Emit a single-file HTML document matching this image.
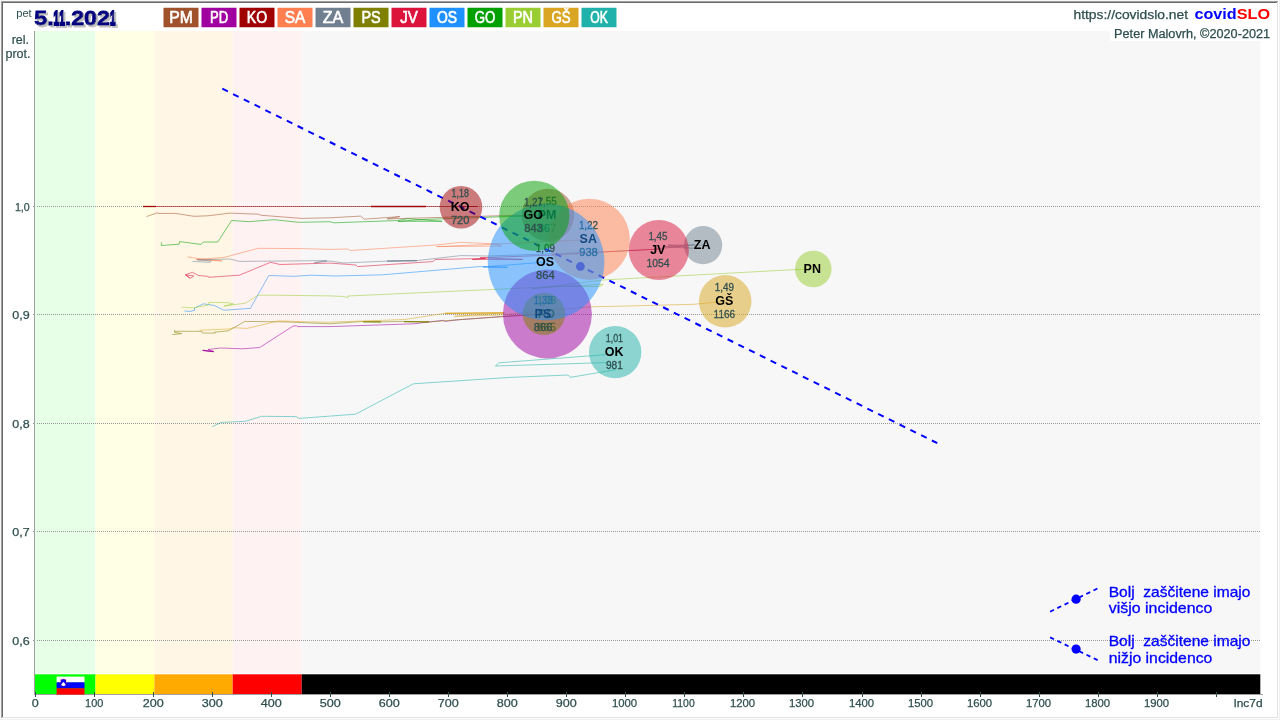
<!DOCTYPE html>
<html lang="sl"><head><meta charset="utf-8"><title>covidSLO</title>
<style>html,body{margin:0;padding:0;background:#fff;overflow:hidden}svg{display:block}text{font-family:"Liberation Sans", sans-serif;}</style>
</head><body>
<svg width="1280" height="720" viewBox="0 0 1280 720">
<rect width="1280" height="720" fill="#fff"/>
<g shape-rendering="crispEdges">
<rect x="0" y="0" width="1280" height="1" fill="#f8f8f8"/><rect x="0" y="0" width="1" height="720" fill="#f8f8f8"/>
<rect x="1" y="1" width="1277" height="1" fill="#a0a0a0"/><rect x="1" y="1" width="1" height="717" fill="#a0a0a0"/>
<rect x="2" y="2" width="1275" height="1" fill="#696969"/><rect x="2" y="2" width="1" height="715" fill="#696969"/>
<rect x="1277" y="2" width="1" height="716" fill="#e3e3e3"/><rect x="2" y="717" width="1276" height="1" fill="#e3e3e3"/>
<rect x="1279" y="0" width="1" height="720" fill="#f0f0f0"/><rect x="0" y="719" width="1280" height="1" fill="#f0f0f0"/>
</g>
<rect x="35" y="31" width="60.5" height="642.2" fill="#e6ffe6"/>
<rect x="35" y="674.3" width="60.5" height="19.7" fill="#00ff00"/>
<rect x="95.5" y="31" width="58.9" height="642.2" fill="#ffffe6"/>
<rect x="95.5" y="674.3" width="58.9" height="19.7" fill="#ffff00"/>
<rect x="154.4" y="31" width="78.3" height="642.2" fill="#fff6e6"/>
<rect x="154.4" y="674.3" width="78.3" height="19.7" fill="#ffaa00"/>
<rect x="232.7" y="31" width="69.0" height="642.2" fill="#fff2f2"/>
<rect x="232.7" y="674.3" width="69.0" height="19.7" fill="#ff0000"/>
<rect x="301.7" y="31" width="958.6" height="642.2" fill="#f7f7f7"/>
<rect x="301.7" y="674.3" width="958.6" height="19.7" fill="#000000"/>
<g shape-rendering="crispEdges">
<line x1="37" y1="206.5" x2="1260" y2="206.5" stroke="#999" stroke-width="1" stroke-dasharray="1 1"/>
<rect x="33" y="206" width="2" height="1" fill="#999"/>
<line x1="37" y1="314.5" x2="1260" y2="314.5" stroke="#999" stroke-width="1" stroke-dasharray="1 1"/>
<rect x="33" y="314" width="2" height="1" fill="#999"/>
<line x1="37" y1="423.5" x2="1260" y2="423.5" stroke="#999" stroke-width="1" stroke-dasharray="1 1"/>
<rect x="33" y="423" width="2" height="1" fill="#999"/>
<line x1="37" y1="531.5" x2="1260" y2="531.5" stroke="#999" stroke-width="1" stroke-dasharray="1 1"/>
<rect x="33" y="531" width="2" height="1" fill="#999"/>
<line x1="37" y1="640.5" x2="1260" y2="640.5" stroke="#999" stroke-width="1" stroke-dasharray="1 1"/>
<rect x="33" y="640" width="2" height="1" fill="#999"/>
<rect x="34" y="31" width="1" height="664" fill="#a0a0a0"/>
<rect x="34" y="694" width="1229" height="1" fill="#a0a0a0"/>
<rect x="35" y="692" width="1" height="5" fill="#2F4F4F"/>
<rect x="94" y="692" width="1" height="5" fill="#2F4F4F"/>
<rect x="153" y="692" width="1" height="5" fill="#2F4F4F"/>
<rect x="212" y="692" width="1" height="5" fill="#2F4F4F"/>
<rect x="271" y="692" width="1" height="5" fill="#2F4F4F"/>
<rect x="330" y="692" width="1" height="5" fill="#2F4F4F"/>
<rect x="389" y="692" width="1" height="5" fill="#2F4F4F"/>
<rect x="448" y="692" width="1" height="5" fill="#2F4F4F"/>
<rect x="507" y="692" width="1" height="5" fill="#2F4F4F"/>
<rect x="566" y="692" width="1" height="5" fill="#2F4F4F"/>
<rect x="625" y="692" width="1" height="5" fill="#2F4F4F"/>
<rect x="684" y="692" width="1" height="5" fill="#2F4F4F"/>
<rect x="743" y="692" width="1" height="5" fill="#2F4F4F"/>
<rect x="802" y="692" width="1" height="5" fill="#2F4F4F"/>
<rect x="862" y="692" width="1" height="5" fill="#2F4F4F"/>
<rect x="921" y="692" width="1" height="5" fill="#2F4F4F"/>
<rect x="980" y="692" width="1" height="5" fill="#2F4F4F"/>
<rect x="1039" y="692" width="1" height="5" fill="#2F4F4F"/>
<rect x="1098" y="692" width="1" height="5" fill="#2F4F4F"/>
<rect x="1157" y="692" width="1" height="5" fill="#2F4F4F"/>
<rect x="1216" y="692" width="1" height="5" fill="#2F4F4F"/>
</g>
<rect x="56.6" y="676.6" width="27.9" height="6" fill="#fff"/><rect x="56.6" y="682.3" width="27.9" height="6.2" fill="#0000ff"/><rect x="56.6" y="688.3" width="27.9" height="6.3" fill="#ff0000"/>
<path d="M60.8 679.7L63.4 679L66 679.7V684Q66 685.8 63.4 686.8Q60.8 685.8 60.8 684Z" fill="#0000ff" stroke="#ff0000" stroke-width="0.3"/><path d="M61.1 685L62.3 683.1L63.4 681.9L64.5 683.1L65.7 685Q63.4 686.9 61.1 685Z" fill="#fff"/>
<rect x="1110" y="24" width="167" height="17" fill="#fff"/>
<g fill="none" stroke-linejoin="round" stroke-linecap="butt">
<polyline points="146.4,216.6 157.8,212.7 158.5,213.5 175.3,213.4 194,216.3 208,215.8 230,213.1 258.1,214.2 261.3,215.3 301.9,218.4 330,217.8 360.6,216.1 364.5,219.2 399.7,216.6 387.2,218.9 498,215.8 548,215" stroke="#A0522D" stroke-width="0.6" stroke-opacity="0.9"/>
<polyline points="202.7,350.3 213.6,351.6 208.1,349.5 220.6,348 242.5,348.8 259.7,347.5 292.5,326.4 296.4,325.6 297.2,326.6 330,326.6 413.8,323.8 443.4,320.3 445,321.4 457.5,319.8 501.3,316.7 547,314" stroke="#A000A0" stroke-width="0.6" stroke-opacity="0.9"/>
<polyline points="202.7,350.3 213.6,351.6" stroke="#A000A0" stroke-width="1.3" stroke-opacity="0.9"/>
<polyline points="143,206.5 478,206.5 461,206.5" stroke="#A00000" stroke-width="0.6" stroke-opacity="0.9"/>
<polyline points="143,206.5 156,206.5" stroke="#A00000" stroke-width="1.3" stroke-opacity="0.9"/>
<polyline points="371,206.5 426,206.5" stroke="#A00000" stroke-width="1.3" stroke-opacity="0.9"/>
<polyline points="187.5,256.9 200.3,258.8 222,261 196,259.5 223.8,257.5 258.1,248.3 301.9,248.6 330,249.4 348,249 350.5,250.5 435.6,245 460.6,242.3 496.6,243.9 501.3,246 436.4,246.6 490,244.4 560,241 589,239.5" stroke="#FF7F50" stroke-width="0.6" stroke-opacity="0.9"/>
<polyline points="192.5,261.4 209.7,262.3 211.3,261.1 197.2,259.8 230,259 239.4,261.4 326.9,260.6 314.4,262.7 330,261 343.4,263 387.2,261.1 416.9,260.6 460.6,255.6 488.8,256 546,254 600,252 653,249.4 694.4,244.8 665,246.8 693.4,248.4 668,245 703,245.2" stroke="#708090" stroke-width="0.6" stroke-opacity="0.9"/>
<polyline points="387,261.1 417,260.6" stroke="#708090" stroke-width="1.3" stroke-opacity="0.9"/>
<polyline points="172.2,334.7 181.6,333.6 174.5,332.3 174.5,330.3 175.3,331.3 201.9,331.3 202.7,333.1 215.2,333.1 214.5,332.2 228.4,330.8 244.8,321.4 286.3,321.9 330,323.8 363.8,321.4 381,321.9 404.4,321.4 429.4,321.9 544,313.5" stroke="#808000" stroke-width="0.6" stroke-opacity="0.9"/>
<polyline points="363,321.8 381,321.9" stroke="#808000" stroke-width="1.3" stroke-opacity="0.9"/>
<polyline points="404,321.6 429,321.9" stroke="#808000" stroke-width="1.3" stroke-opacity="0.9"/>
<polyline points="190.2,278.3 193.8,276 185.5,274.8 190.2,278.3 185.5,274.8 192.5,272.3 198.8,275.6 208.1,276.3 208.5,277.3 239.4,275.2 270.6,262.3 280,264.5 330,263.1 356,265 357.5,266.6 432.5,261.6 435.6,259.5 485.6,258.4 472.3,259.5 522.5,259.4 480,257.8 555,255 600,252.2 661,248.9" stroke="#DC143C" stroke-width="0.6" stroke-opacity="0.9"/>
<polyline points="184.4,310.8 189.4,311.6 194.8,310.2 194.4,308.1 203.4,303.8 214.4,305.5 223.8,310.2 250.3,308.4 268.8,275.5 294,276.3 311.3,275.2 335.6,276 382.5,274.8 479.4,266.6 507.5,267.3 483,267 546,262" stroke="#1E90FF" stroke-width="0.6" stroke-opacity="0.9"/>
<polyline points="161.3,242.3 161.3,245.5 179.2,244.2 179.5,241.6 201,244.4 203.4,242 217.8,242 231.6,220.5 248.8,221.7 273.8,219.7 298.8,222.3 330,221.7 334,222.8 398,220.5 407.5,218.6 441.9,221.3 398,221.3 426,219.4 498,216.9 534,216" stroke="#00A000" stroke-width="0.6" stroke-opacity="0.9"/>
<polyline points="181.6,307.3 194,307.8 208.1,305 208.9,302.3 228.4,302.7 233.4,303.9 223.8,306.1 245.6,303.1 258.1,295.2 276.9,295.2 330,295.9 343.4,296.5 347.8,297.6 348,296 492,289.5 603,284.4 600,286.5 556,286.5 532.5,288.8 602.5,280 795,269.6 813,269" stroke="#9ACD32" stroke-width="0.6" stroke-opacity="0.9"/>
<polyline points="199.5,330.3 230,328.9 233,327.7 247.2,328.4 278.4,320.9 309.7,321.9 330,322.2 404.4,319.5 445,313.3 504.4,312.8 454.4,316.3 496.6,315.2 590,306.9 693.8,304.3 725,301.3" stroke="#DAA520" stroke-width="0.6" stroke-opacity="0.9"/>
<polyline points="445,313.3 504,312.8" stroke="#DAA520" stroke-width="1.3" stroke-opacity="0.9"/>
<polyline points="212.2,426.7 221.1,422.5 245.3,421.3 261.7,416.3 296.1,416.6 299.2,418.4 355.5,414.2 400,390.8 413.4,383.8 510,377.4 568.1,375 570.4,377.4 615.7,369.6 606.4,362.6 495.4,366 498.8,362.8 606.4,354.6" stroke="#20B2AA" stroke-width="0.6" stroke-opacity="0.9"/>
</g>
<line x1="222.3" y1="88.7" x2="937.3" y2="443.2" stroke="#0000ff" stroke-width="2" stroke-dasharray="6.2 5.8"/>
<circle cx="580.4" cy="266.5" r="4.4" fill="#0000ff"/>
<circle cx="548" cy="215" r="26.2" fill="#A0522D" fill-opacity="0.5"/>
<text x="547.2" y="204.7" font-size="11" fill="#2F4F4F" text-anchor="middle" font-weight="normal" textLength="19.2" lengthAdjust="spacingAndGlyphs" stroke="#2F4F4F" stroke-width="0.3">1,55</text>
<text x="547" y="218.6" font-size="12.5" fill="#000" text-anchor="middle" font-weight="bold">PM</text>
<text x="547.2" y="231.6" font-size="11" fill="#2F4F4F" text-anchor="middle" font-weight="normal" textLength="18.6" lengthAdjust="spacingAndGlyphs" stroke="#2F4F4F" stroke-width="0.3">867</text>
<circle cx="547.4" cy="314" r="44.5" fill="#A000A0" fill-opacity="0.5"/>
<text x="546.6" y="303.7" font-size="11" fill="#2F4F4F" text-anchor="middle" font-weight="normal" textLength="19.2" lengthAdjust="spacingAndGlyphs" stroke="#2F4F4F" stroke-width="0.3">1,38</text>
<text x="546.4" y="317.6" font-size="12.5" fill="#000" text-anchor="middle" font-weight="bold">PD</text>
<text x="546.6" y="330.6" font-size="11" fill="#2F4F4F" text-anchor="middle" font-weight="normal" textLength="18.6" lengthAdjust="spacingAndGlyphs" stroke="#2F4F4F" stroke-width="0.3">865</text>
<circle cx="461" cy="207.2" r="21.3" fill="#A00000" fill-opacity="0.5"/>
<text x="460.2" y="196.89999999999998" font-size="11" fill="#2F4F4F" text-anchor="middle" font-weight="normal" textLength="17.3" lengthAdjust="spacingAndGlyphs" stroke="#2F4F4F" stroke-width="0.3">1,18</text>
<text x="460" y="210.79999999999998" font-size="12.5" fill="#000" text-anchor="middle" font-weight="bold">KO</text>
<text x="460.2" y="223.79999999999998" font-size="11" fill="#2F4F4F" text-anchor="middle" font-weight="normal" textLength="18.6" lengthAdjust="spacingAndGlyphs" stroke="#2F4F4F" stroke-width="0.3">720</text>
<circle cx="589.3" cy="239.3" r="40.6" fill="#FF7F50" fill-opacity="0.5"/>
<text x="588.5" y="229.0" font-size="11" fill="#2F4F4F" text-anchor="middle" font-weight="normal" textLength="19.2" lengthAdjust="spacingAndGlyphs" stroke="#2F4F4F" stroke-width="0.3">1,22</text>
<text x="588.3" y="242.9" font-size="12.5" fill="#000" text-anchor="middle" font-weight="bold">SA</text>
<text x="588.5" y="255.9" font-size="11" fill="#2F4F4F" text-anchor="middle" font-weight="normal" textLength="18.6" lengthAdjust="spacingAndGlyphs" stroke="#2F4F4F" stroke-width="0.3">938</text>
<circle cx="703.1" cy="245.2" r="19.1" fill="#708090" fill-opacity="0.5"/>
<text x="702.1" y="248.79999999999998" font-size="12.5" fill="#000" text-anchor="middle" font-weight="bold">ZA</text>
<circle cx="543.9" cy="313.9" r="21.2" fill="#808000" fill-opacity="0.5"/>
<text x="543.1" y="303.59999999999997" font-size="11" fill="#2F4F4F" text-anchor="middle" font-weight="normal" textLength="19.2" lengthAdjust="spacingAndGlyphs" stroke="#2F4F4F" stroke-width="0.3">1,33</text>
<text x="542.9" y="317.5" font-size="12.5" fill="#000" text-anchor="middle" font-weight="bold">PS</text>
<text x="543.1" y="330.5" font-size="11" fill="#2F4F4F" text-anchor="middle" font-weight="normal" textLength="18.6" lengthAdjust="spacingAndGlyphs" stroke="#2F4F4F" stroke-width="0.3">866</text>
<circle cx="658.8" cy="250" r="30" fill="#DC143C" fill-opacity="0.5"/>
<text x="658.0" y="239.7" font-size="11" fill="#2F4F4F" text-anchor="middle" font-weight="normal" textLength="19.2" lengthAdjust="spacingAndGlyphs" stroke="#2F4F4F" stroke-width="0.3">1,45</text>
<text x="657.8" y="253.6" font-size="12.5" fill="#000" text-anchor="middle" font-weight="bold">JV</text>
<text x="658.0" y="266.6" font-size="11" fill="#2F4F4F" text-anchor="middle" font-weight="normal" textLength="23.2" lengthAdjust="spacingAndGlyphs" stroke="#2F4F4F" stroke-width="0.3">1054</text>
<circle cx="546.1" cy="262" r="58.3" fill="#1E90FF" fill-opacity="0.5"/>
<text x="545.3000000000001" y="251.7" font-size="11" fill="#2F4F4F" text-anchor="middle" font-weight="normal" textLength="19.2" lengthAdjust="spacingAndGlyphs" stroke="#2F4F4F" stroke-width="0.3">1,09</text>
<text x="545.1" y="265.6" font-size="12.5" fill="#000" text-anchor="middle" font-weight="bold">OS</text>
<text x="545.3000000000001" y="278.6" font-size="11" fill="#2F4F4F" text-anchor="middle" font-weight="normal" textLength="18.6" lengthAdjust="spacingAndGlyphs" stroke="#2F4F4F" stroke-width="0.3">864</text>
<circle cx="534.3" cy="215.8" r="35.1" fill="#00A000" fill-opacity="0.5"/>
<text x="533.5" y="205.5" font-size="11" fill="#2F4F4F" text-anchor="middle" font-weight="normal" textLength="19.2" lengthAdjust="spacingAndGlyphs" stroke="#2F4F4F" stroke-width="0.3">1,27</text>
<text x="533.3" y="219.4" font-size="12.5" fill="#000" text-anchor="middle" font-weight="bold">GO</text>
<text x="533.5" y="232.4" font-size="11" fill="#2F4F4F" text-anchor="middle" font-weight="normal" textLength="18.6" lengthAdjust="spacingAndGlyphs" stroke="#2F4F4F" stroke-width="0.3">843</text>
<circle cx="813.3" cy="269" r="18.3" fill="#9ACD32" fill-opacity="0.5"/>
<text x="812.3" y="272.6" font-size="12.5" fill="#000" text-anchor="middle" font-weight="bold">PN</text>
<circle cx="725.2" cy="301.3" r="26.3" fill="#DAA520" fill-opacity="0.5"/>
<text x="724.4000000000001" y="291.0" font-size="11" fill="#2F4F4F" text-anchor="middle" font-weight="normal" textLength="19.2" lengthAdjust="spacingAndGlyphs" stroke="#2F4F4F" stroke-width="0.3">1,49</text>
<text x="724.2" y="304.90000000000003" font-size="12.5" fill="#000" text-anchor="middle" font-weight="bold">GŠ</text>
<text x="724.4000000000001" y="317.90000000000003" font-size="11" fill="#2F4F4F" text-anchor="middle" font-weight="normal" textLength="21.6" lengthAdjust="spacingAndGlyphs" stroke="#2F4F4F" stroke-width="0.3">1166</text>
<circle cx="615.2" cy="352.1" r="26.2" fill="#20B2AA" fill-opacity="0.5"/>
<text x="614.4000000000001" y="341.8" font-size="11" fill="#2F4F4F" text-anchor="middle" font-weight="normal" textLength="17.3" lengthAdjust="spacingAndGlyphs" stroke="#2F4F4F" stroke-width="0.3">1,01</text>
<text x="614.2" y="355.70000000000005" font-size="12.5" fill="#000" text-anchor="middle" font-weight="bold">OK</text>
<text x="614.4000000000001" y="368.70000000000005" font-size="11" fill="#2F4F4F" text-anchor="middle" font-weight="normal" textLength="17.0" lengthAdjust="spacingAndGlyphs" stroke="#2F4F4F" stroke-width="0.3">981</text>
<rect x="163.5" y="7.75" width="35" height="19.5" fill="#A0522D"/>
<text x="181.0" y="23.2" font-size="16" fill="#fff" text-anchor="middle" font-weight="normal" textLength="23.6" lengthAdjust="spacingAndGlyphs" stroke="#fff" stroke-width="0.6">PM</text>
<rect x="201.5" y="7.75" width="35" height="19.5" fill="#A000A0"/>
<text x="219.0" y="23.2" font-size="16" fill="#fff" text-anchor="middle" font-weight="normal" textLength="18.2" lengthAdjust="spacingAndGlyphs" stroke="#fff" stroke-width="0.6">PD</text>
<rect x="239.5" y="7.75" width="35" height="19.5" fill="#A00000"/>
<text x="257.0" y="23.2" font-size="16" fill="#fff" text-anchor="middle" font-weight="normal" textLength="20.4" lengthAdjust="spacingAndGlyphs" stroke="#fff" stroke-width="0.6">KO</text>
<rect x="277.5" y="7.75" width="35" height="19.5" fill="#FF7F50"/>
<text x="295.0" y="23.2" font-size="16" fill="#fff" text-anchor="middle" font-weight="normal" textLength="20.6" lengthAdjust="spacingAndGlyphs" stroke="#fff" stroke-width="0.6">SA</text>
<rect x="315.5" y="7.75" width="35" height="19.5" fill="#708090"/>
<text x="333.0" y="23.2" font-size="16" fill="#fff" text-anchor="middle" font-weight="normal" textLength="20.6" lengthAdjust="spacingAndGlyphs" stroke="#fff" stroke-width="0.6">ZA</text>
<rect x="353.5" y="7.75" width="35" height="19.5" fill="#808000"/>
<text x="371.0" y="23.2" font-size="16" fill="#fff" text-anchor="middle" font-weight="normal" textLength="19.2" lengthAdjust="spacingAndGlyphs" stroke="#fff" stroke-width="0.6">PS</text>
<rect x="391.5" y="7.75" width="35" height="19.5" fill="#DC143C"/>
<text x="409.0" y="23.2" font-size="16" fill="#fff" text-anchor="middle" font-weight="normal" textLength="17.6" lengthAdjust="spacingAndGlyphs" stroke="#fff" stroke-width="0.6">JV</text>
<rect x="429.5" y="7.75" width="35" height="19.5" fill="#1E90FF"/>
<text x="447.0" y="23.2" font-size="16" fill="#fff" text-anchor="middle" font-weight="normal" textLength="20.1" lengthAdjust="spacingAndGlyphs" stroke="#fff" stroke-width="0.6">OS</text>
<rect x="467.5" y="7.75" width="35" height="19.5" fill="#00A000"/>
<text x="485.0" y="23.2" font-size="16" fill="#fff" text-anchor="middle" font-weight="normal" textLength="20.6" lengthAdjust="spacingAndGlyphs" stroke="#fff" stroke-width="0.6">GO</text>
<rect x="505.5" y="7.75" width="35" height="19.5" fill="#9ACD32"/>
<text x="523.0" y="23.2" font-size="16" fill="#fff" text-anchor="middle" font-weight="normal" textLength="20.1" lengthAdjust="spacingAndGlyphs" stroke="#fff" stroke-width="0.6">PN</text>
<rect x="543.5" y="7.75" width="35" height="19.5" fill="#DAA520"/>
<text x="561.0" y="23.2" font-size="16" fill="#fff" text-anchor="middle" font-weight="normal" textLength="19.2" lengthAdjust="spacingAndGlyphs" stroke="#fff" stroke-width="0.6">GŠ</text>
<rect x="581.5" y="7.75" width="35" height="19.5" fill="#20B2AA"/>
<text x="599.0" y="23.2" font-size="16" fill="#fff" text-anchor="middle" font-weight="normal" textLength="17.6" lengthAdjust="spacingAndGlyphs" stroke="#fff" stroke-width="0.6">OK</text>
<text x="16.2" y="16.6" font-size="10" fill="#2F4F4F" text-anchor="start" font-weight="normal" textLength="15.5" lengthAdjust="spacingAndGlyphs">pet</text>
<defs><filter id="ds" x="-5%" y="-20%" width="115%" height="150%"><feOffset in="SourceAlpha" dx="1.7" dy="1.7" result="o"/><feFlood flood-color="#c0c0c0"/><feComposite in2="o" operator="in" result="s"/><feMerge><feMergeNode in="s"/><feMergeNode in="SourceGraphic"/></feMerge></filter></defs>
<text transform="translate(34.2,25) scale(1.13,1)" font-size="20.6" font-weight="bold" stroke-width="0.8" fill="#000080" stroke="#000080" filter="url(#ds)">5.<tspan textLength="4.9" lengthAdjust="spacingAndGlyphs" stroke-width="2.2">1</tspan><tspan textLength="4.9" lengthAdjust="spacingAndGlyphs" stroke-width="2.2">1</tspan>.202<tspan textLength="4.9" lengthAdjust="spacingAndGlyphs" stroke-width="2.2">1</tspan></text>
<text x="29" y="44" font-size="12.5" fill="#2F4F4F" stroke="#2F4F4F" stroke-width="0.2" text-anchor="end">rel.</text>
<text x="30.5" y="58" font-size="12.5" fill="#2F4F4F" stroke="#2F4F4F" stroke-width="0.2" text-anchor="end">prot.</text>
<text x="1073.5" y="19.3" font-size="12" fill="#2F4F4F" text-anchor="start" font-weight="normal" textLength="114.5" lengthAdjust="spacingAndGlyphs" stroke="#2F4F4F" stroke-width="0.25">https://covidslo.net</text>
<text x="1194.4" y="19.2" font-size="14.8" font-weight="bold" textLength="75.6" lengthAdjust="spacingAndGlyphs"><tspan fill="#0000ff">covid</tspan><tspan fill="#ff0000">SLO</tspan></text>
<text x="1114.1" y="37.6" font-size="12" fill="#2F4F4F" text-anchor="start" font-weight="normal" textLength="156" lengthAdjust="spacingAndGlyphs" stroke="#2F4F4F" stroke-width="0.25">Peter Malovrh, ©2020-2021</text>
<text x="29.7" y="210.5" font-size="11.8" fill="#2F4F4F" text-anchor="end" font-weight="normal" textLength="14.8" lengthAdjust="spacingAndGlyphs" stroke="#2F4F4F" stroke-width="0.25">1,0</text>
<text x="29.7" y="318.5" font-size="11.8" fill="#2F4F4F" text-anchor="end" font-weight="normal" textLength="17.4" lengthAdjust="spacingAndGlyphs" stroke="#2F4F4F" stroke-width="0.25">0,9</text>
<text x="29.7" y="427.5" font-size="11.8" fill="#2F4F4F" text-anchor="end" font-weight="normal" textLength="17.4" lengthAdjust="spacingAndGlyphs" stroke="#2F4F4F" stroke-width="0.25">0,8</text>
<text x="29.7" y="535.5" font-size="11.8" fill="#2F4F4F" text-anchor="end" font-weight="normal" textLength="17.4" lengthAdjust="spacingAndGlyphs" stroke="#2F4F4F" stroke-width="0.25">0,7</text>
<text x="29.7" y="644.5" font-size="11.8" fill="#2F4F4F" text-anchor="end" font-weight="normal" textLength="17.4" lengthAdjust="spacingAndGlyphs" stroke="#2F4F4F" stroke-width="0.25">0,6</text>
<text x="35.2" y="706.9" font-size="11.6" fill="#2F4F4F" text-anchor="middle" font-weight="normal" textLength="7.0" lengthAdjust="spacingAndGlyphs" stroke="#2F4F4F" stroke-width="0.25">0</text>
<text x="94.2" y="706.9" font-size="11.6" fill="#2F4F4F" text-anchor="middle" font-weight="normal" textLength="18.2" lengthAdjust="spacingAndGlyphs" stroke="#2F4F4F" stroke-width="0.25">100</text>
<text x="153.2" y="706.9" font-size="11.6" fill="#2F4F4F" text-anchor="middle" font-weight="normal" textLength="21.0" lengthAdjust="spacingAndGlyphs" stroke="#2F4F4F" stroke-width="0.25">200</text>
<text x="212.2" y="706.9" font-size="11.6" fill="#2F4F4F" text-anchor="middle" font-weight="normal" textLength="21.0" lengthAdjust="spacingAndGlyphs" stroke="#2F4F4F" stroke-width="0.25">300</text>
<text x="271.2" y="706.9" font-size="11.6" fill="#2F4F4F" text-anchor="middle" font-weight="normal" textLength="21.0" lengthAdjust="spacingAndGlyphs" stroke="#2F4F4F" stroke-width="0.25">400</text>
<text x="330.2" y="706.9" font-size="11.6" fill="#2F4F4F" text-anchor="middle" font-weight="normal" textLength="21.0" lengthAdjust="spacingAndGlyphs" stroke="#2F4F4F" stroke-width="0.25">500</text>
<text x="389.2" y="706.9" font-size="11.6" fill="#2F4F4F" text-anchor="middle" font-weight="normal" textLength="21.0" lengthAdjust="spacingAndGlyphs" stroke="#2F4F4F" stroke-width="0.25">600</text>
<text x="448.2" y="706.9" font-size="11.6" fill="#2F4F4F" text-anchor="middle" font-weight="normal" textLength="21.0" lengthAdjust="spacingAndGlyphs" stroke="#2F4F4F" stroke-width="0.25">700</text>
<text x="507.2" y="706.9" font-size="11.6" fill="#2F4F4F" text-anchor="middle" font-weight="normal" textLength="21.0" lengthAdjust="spacingAndGlyphs" stroke="#2F4F4F" stroke-width="0.25">800</text>
<text x="566.2" y="706.9" font-size="11.6" fill="#2F4F4F" text-anchor="middle" font-weight="normal" textLength="21.0" lengthAdjust="spacingAndGlyphs" stroke="#2F4F4F" stroke-width="0.25">900</text>
<text x="624.5" y="706.9" font-size="11.6" fill="#2F4F4F" text-anchor="middle" font-weight="normal" textLength="25.2" lengthAdjust="spacingAndGlyphs" stroke="#2F4F4F" stroke-width="0.25">1000</text>
<text x="683.5" y="706.9" font-size="11.6" fill="#2F4F4F" text-anchor="middle" font-weight="normal" textLength="22.4" lengthAdjust="spacingAndGlyphs" stroke="#2F4F4F" stroke-width="0.25">1100</text>
<text x="742.5" y="706.9" font-size="11.6" fill="#2F4F4F" text-anchor="middle" font-weight="normal" textLength="25.2" lengthAdjust="spacingAndGlyphs" stroke="#2F4F4F" stroke-width="0.25">1200</text>
<text x="801.5" y="706.9" font-size="11.6" fill="#2F4F4F" text-anchor="middle" font-weight="normal" textLength="25.2" lengthAdjust="spacingAndGlyphs" stroke="#2F4F4F" stroke-width="0.25">1300</text>
<text x="861.5" y="706.9" font-size="11.6" fill="#2F4F4F" text-anchor="middle" font-weight="normal" textLength="25.2" lengthAdjust="spacingAndGlyphs" stroke="#2F4F4F" stroke-width="0.25">1400</text>
<text x="920.5" y="706.9" font-size="11.6" fill="#2F4F4F" text-anchor="middle" font-weight="normal" textLength="25.2" lengthAdjust="spacingAndGlyphs" stroke="#2F4F4F" stroke-width="0.25">1500</text>
<text x="979.5" y="706.9" font-size="11.6" fill="#2F4F4F" text-anchor="middle" font-weight="normal" textLength="25.2" lengthAdjust="spacingAndGlyphs" stroke="#2F4F4F" stroke-width="0.25">1600</text>
<text x="1038.5" y="706.9" font-size="11.6" fill="#2F4F4F" text-anchor="middle" font-weight="normal" textLength="25.2" lengthAdjust="spacingAndGlyphs" stroke="#2F4F4F" stroke-width="0.25">1700</text>
<text x="1097.5" y="706.9" font-size="11.6" fill="#2F4F4F" text-anchor="middle" font-weight="normal" textLength="25.2" lengthAdjust="spacingAndGlyphs" stroke="#2F4F4F" stroke-width="0.25">1800</text>
<text x="1156.5" y="706.9" font-size="11.6" fill="#2F4F4F" text-anchor="middle" font-weight="normal" textLength="25.2" lengthAdjust="spacingAndGlyphs" stroke="#2F4F4F" stroke-width="0.25">1900</text>
<text x="1262.6" y="707" font-size="11.3" fill="#2F4F4F" text-anchor="end" font-weight="normal" textLength="29.2" lengthAdjust="spacingAndGlyphs" stroke="#2F4F4F" stroke-width="0.25">Inc7d</text>
<line x1="1050.1" y1="611.7" x2="1097.9" y2="588.3" stroke="#0000ff" stroke-width="1.8" stroke-dasharray="4.3 3.76"/>
<circle cx="1076.1" cy="599.2" r="4.6" fill="#0000ff"/>
<line x1="1050.1" y1="637.4" x2="1097.9" y2="660.2" stroke="#0000ff" stroke-width="1.8" stroke-dasharray="4.3 3.76"/>
<circle cx="1076.1" cy="649.1" r="4.6" fill="#0000ff"/>
<text x="1108.75" y="596.8" font-size="14.5" fill="#0000ff" text-anchor="start" font-weight="normal" textLength="141.7" lengthAdjust="spacingAndGlyphs" xml:space="preserve" stroke="#0000ff" stroke-width="0.3">Bolj  zaščitene imajo</text>
<text x="1108.75" y="612.8" font-size="14.5" fill="#0000ff" text-anchor="start" font-weight="normal" textLength="103.6" lengthAdjust="spacingAndGlyphs" stroke="#0000ff" stroke-width="0.3">višjo incidenco</text>
<text x="1108.75" y="646.3" font-size="14.5" fill="#0000ff" text-anchor="start" font-weight="normal" textLength="141.7" lengthAdjust="spacingAndGlyphs" xml:space="preserve" stroke="#0000ff" stroke-width="0.3">Bolj  zaščitene imajo</text>
<text x="1108.75" y="662.7" font-size="14.5" fill="#0000ff" text-anchor="start" font-weight="normal" textLength="103.6" lengthAdjust="spacingAndGlyphs" stroke="#0000ff" stroke-width="0.3">nižjo incidenco</text>
</svg></body></html>
